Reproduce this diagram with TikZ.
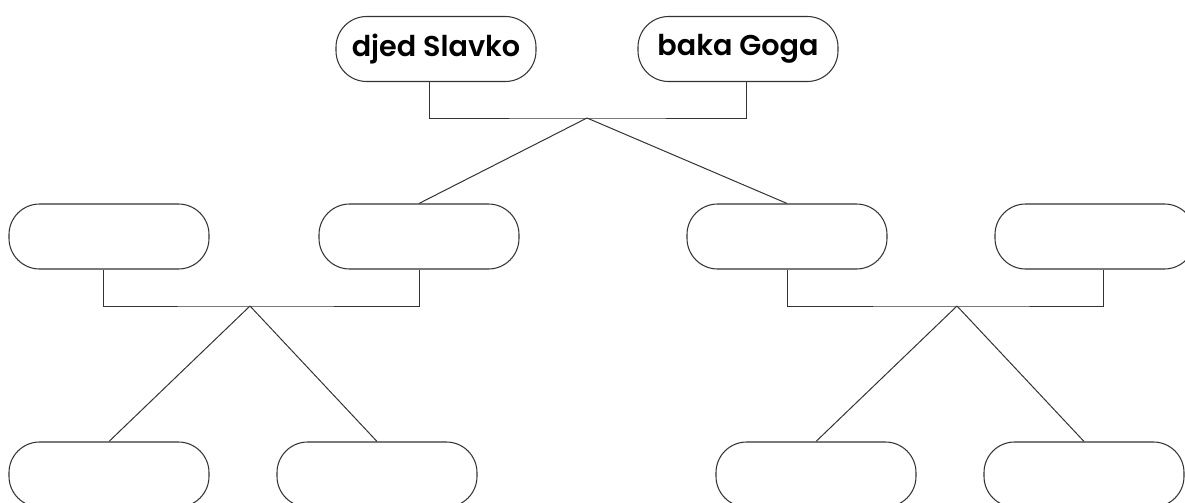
\documentclass[tikz,border=0pt]{standalone}
\usepackage{fontspec}
\setmainfont{Poppins}[BoldFont={Poppins SemiBold}]
\begin{document}
\begin{tikzpicture}[x=0.75pt,y=-0.75pt,
  pill/.style={draw=black!80,line width=0.8pt,rounded corners=23pt,minimum width=150pt,minimum height=48.75pt,inner sep=0pt,fill=white},
  conn/.style={draw=black!80,line width=0.75pt},
  lbl/.style={font=\fontsize{21.5}{24}\selectfont\bfseries}]
\useasboundingbox (0,0) rectangle (1185,503);
% top row
\node[pill,lbl] (djed) at (436,49) {djed Slavko};
\node[pill,lbl] (goga) at (738,49) {baka Goga};
% middle row
\node[pill] (m1) at (109,236.5) {};
\node[pill] (m2) at (419,236.5) {};
\node[pill] (m3) at (787,236.5) {};
\node[pill] (m4) at (1095,236.5) {};
% bottom row
\node[pill] (b1) at (109,474.5) {};
\node[pill] (b2) at (377,474.5) {};
\node[pill] (b3) at (816,474.5) {};
\node[pill] (b4) at (1084,474.5) {};
% apex coordinates
\coordinate (ta) at (587,118);
\coordinate (la) at (250,306);
\coordinate (ra) at (957,306);
% top connector
\draw[conn] ([xshift=-5.25pt]djed.south) |- (ta) -| ([xshift=6pt]goga.south);
\draw[conn] (ta) -- (m2.north);
\draw[conn] (ta) -- (m3.north);
% left connector
\draw[conn] ([xshift=-4.5pt]m1.south) |- (la) -| (m2.south);
\draw[conn] (la) -- (b1.north);
\draw[conn] (la) -- (b2.north);
% right connector
\draw[conn] (m3.south) |- (ra) -| ([xshift=6pt]m4.south);
\draw[conn] (ra) -- (b3.north);
\draw[conn] (ra) -- (b4.north);
\end{tikzpicture}
\end{document}
